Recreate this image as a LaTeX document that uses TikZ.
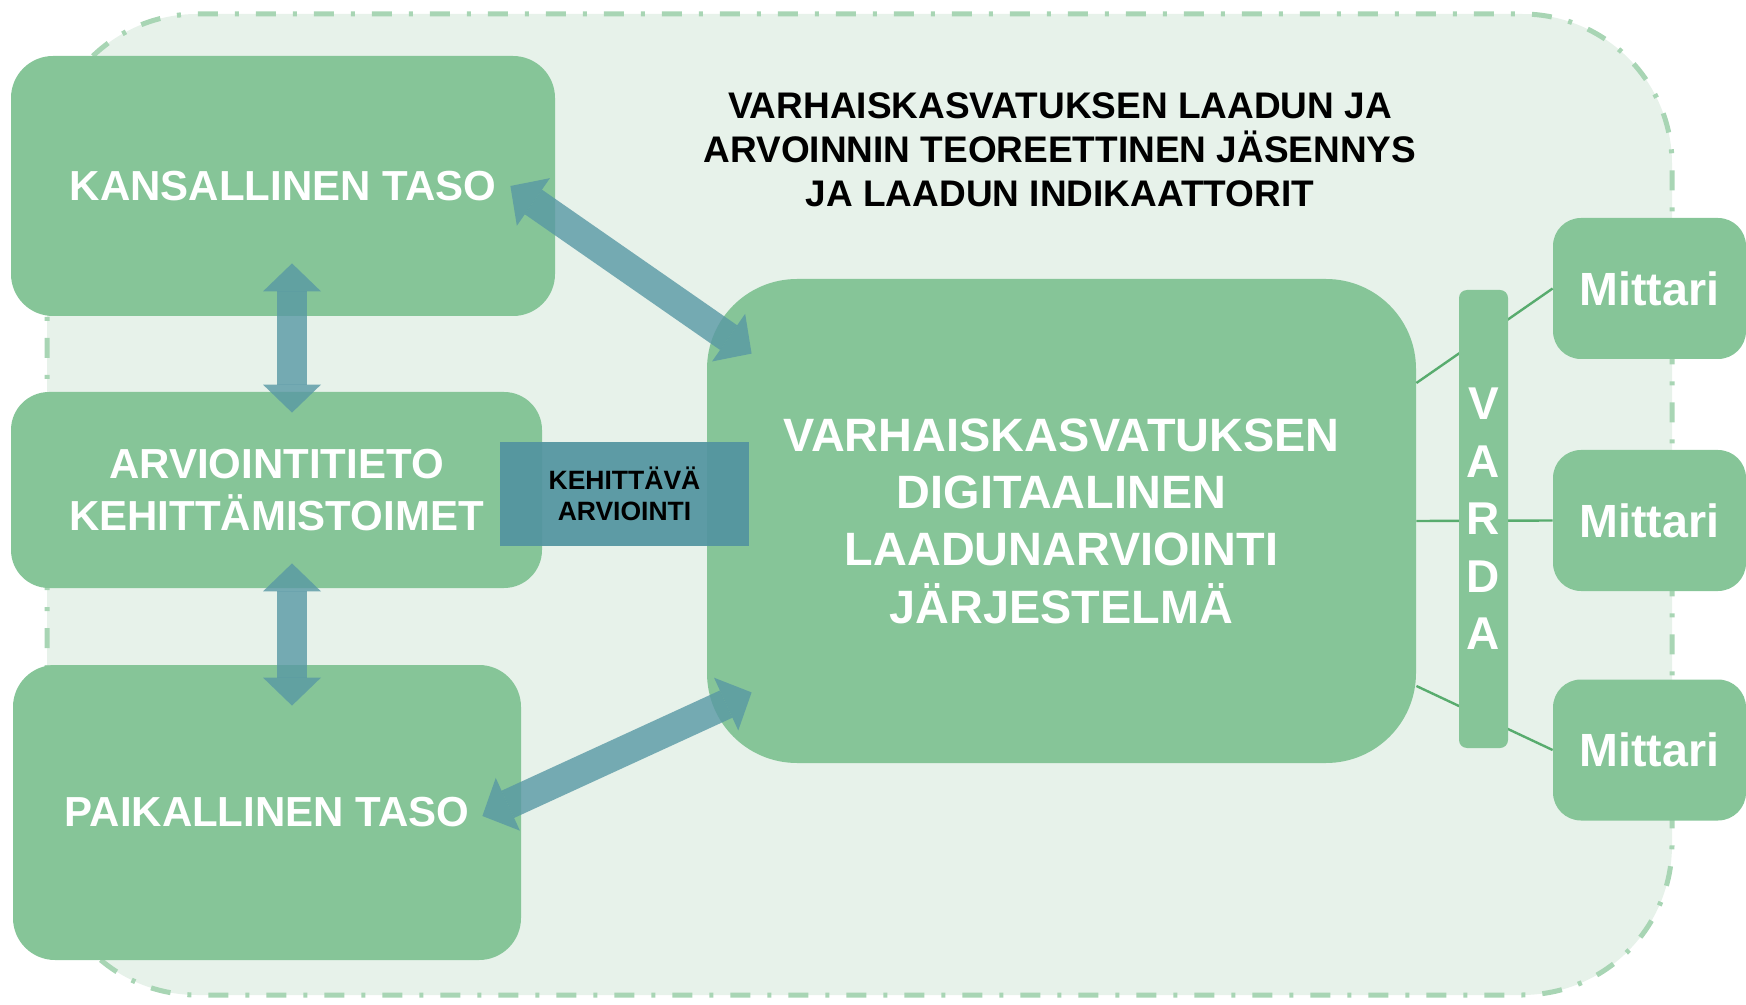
\documentclass[tikz,border=0pt]{standalone}
\usepackage{fontspec}
\setmainfont{Liberation Sans}
\usetikzlibrary{arrows.meta}
\definecolor{boxgreen}{RGB}{134,197,152}
\definecolor{bggreen}{RGB}{231,242,234}
\definecolor{bordergreen}{RGB}{168,213,180}
\definecolor{linegreen}{RGB}{88,172,110}
\definecolor{arrowteal}{RGB}{88,152,164}
\definecolor{kehteal}{RGB}{82,148,160}
\tikzset{
  frame/.style={fill=bggreen, draw=bordergreen, line width=2.5pt, rounded corners=75pt,
    dash pattern=on 10pt off 8.5pt on 2pt off 8.5pt},
  greenbox/.style={shape=rectangle, rounded corners=21pt, fill=boxgreen, text=white,
    align=center, inner sep=0pt, font=\bfseries\fontsize{21}{26}\selectfont},
  mittaribox/.style={greenbox, rounded corners=14pt, minimum width=96.5pt,
    minimum height=70.5pt, font=\bfseries\fontsize{23.3}{28}\selectfont},
  linkline/.style={draw=linegreen, line width=1.2pt},
  bigarrow/.style={color=arrowteal, opacity=0.8, line width=15pt,
    {Triangle[width=29pt,length=14pt,line width=0pt]}-{Triangle[width=29pt,length=14pt,line width=0pt]}}
}
\begin{document}
\begin{tikzpicture}[x=0.5pt, y=-0.5pt]
\useasboundingbox (0,0) rectangle (1746,1005);
\draw[frame] (47,14) rectangle (1672,995);

\node[greenbox, minimum width=272pt, minimum height=130pt] (kans) at (283,186) {KANSALLINEN TASO};
\node[greenbox, rounded corners=19pt, minimum width=265.5pt, minimum height=98pt] (arv) at (276.5,490) {ARVIOINTITIETO\\KEHITTÄMISTOIMET};
\node[greenbox, minimum width=254pt, minimum height=147.5pt] (paik) at (267,812.5) {PAIKALLINEN TASO};
\node[greenbox, rounded corners=45pt, minimum width=354.5pt, minimum height=242pt,
  font=\bfseries\fontsize{23.4}{28.7}\selectfont] (cen) at (1061.5,521) {VARHAISKASVATUKSEN\\DIGITAALINEN\\LAADUNARVIOINTI\\JÄRJESTELMÄ};

\node[font=\bfseries\fontsize{18.5}{22}\selectfont, align=center] (title) at (1060,150) {VARHAISKASVATUKSEN LAADUN JA\\ARVOINNIN TEOREETTINEN JÄSENNYS\\JA LAADUN INDIKAATTORIT};

\foreach \y/\n in {288.5/m1, 520.5/m2, 750/m3}
  \node[mittaribox] (\n) at (1649.5,\y) {Mittari};

\path[linkline] ([yshift=69pt]cen.east) edge (m1.west)
  (cen.east) edge (m2.west)
  ([yshift=-82.5pt]cen.east) edge (m3.west);

\node[greenbox, rounded corners=4pt, minimum width=24.5pt, minimum height=229pt,
  font=\bfseries\fontsize{23}{28.75}\selectfont] (varda) at (1483.5,519) {V\\A\\R\\D\\A};

\path[bigarrow] ([shift={(9,-53)}]kans.south) edge ([shift={(15.5,21)}]arv.north);
\path[bigarrow] ([shift={(15.5,-25)}]arv.south) edge ([shift={(25,41)}]paik.north);
\path[bigarrow] ([shift={(-45,0)}]kans.east) edge ([shift={(45,75)}]cen.north west);
\path[bigarrow] ([shift={(45,-71)}]cen.south west) edge ([shift={(-39,3.5)}]paik.east);

\node[fill=kehteal, fill opacity=0.92, text opacity=1, inner sep=0pt, align=center,
  minimum width=124.5pt, minimum height=52pt,
  font=\bfseries\fontsize{13.25}{15.8}\selectfont] (keh) at (624.5,494) {KEHITTÄVÄ\\ARVIOINTI};
\end{tikzpicture}
\end{document}
